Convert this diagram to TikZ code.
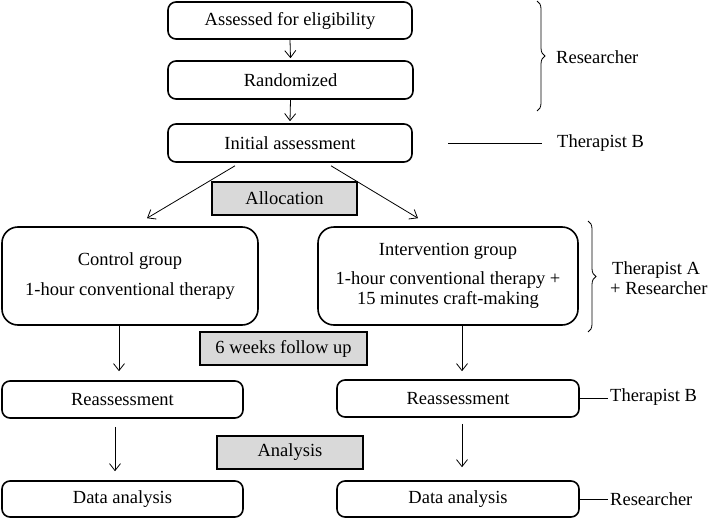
\documentclass[tikz,border=0pt]{standalone}
\usepackage{fontspec}
\setmainfont{Liberation Serif}
\usetikzlibrary{arrows.meta,decorations.pathreplacing}
\definecolor{boxgray}{HTML}{D9D9D9}
\begin{document}
\begin{tikzpicture}[x=1pt,y=-1pt,
  box/.style={draw, line width=1.6pt, rounded corners=8pt, inner sep=0pt},
  bigbox/.style={draw, line width=1.6pt, rounded corners=16pt, inner sep=0pt, align=center},
  graybox/.style={draw, line width=1.3pt, fill=boxgray, inner sep=0pt},
  arr/.style={-{Straight Barb[length=7pt,width=11pt]}, line width=0.8pt},
  thin/.style={line width=0.8pt},
  bracestyle/.style={decorate, decoration={brace, amplitude=8pt}, line width=0.8pt},
  lab/.style={anchor=west, inner sep=0pt, align=left},
  font=\fontsize{18.5}{20}\selectfont]
\useasboundingbox (0,0) rectangle (708,519);

% top column
\node[box, minimum width=244pt, minimum height=37pt] (b1) at (290,20.5) {Assessed for eligibility};
\node[box, minimum width=245pt, minimum height=38pt] (b2) at (290.5,80) {Randomized};
\node[box, minimum width=244pt, minimum height=38pt] (b3) at (290,143) {Initial assessment};

% gray labels
\node[graybox, minimum width=145pt, minimum height=33pt] (alloc) at (284.5,198.5) {Allocation};
\node[graybox, minimum width=167pt, minimum height=33pt] (fu) at (283.5,348.5) {6 weeks follow up};
\node[graybox, minimum width=146pt, minimum height=33pt] (an) at (290,452.5) {Analysis};

% groups
\node[bigbox, minimum width=256pt, minimum height=98pt] (ctl) at (130,276) {Control group\\[10pt]1-hour conventional therapy};
\node[bigbox, minimum width=260pt, minimum height=98pt] (intv) at (448,276) {Intervention group\\[9pt]1-hour conventional therapy +\\15 minutes craft-making};

% reassessment & data analysis
\node[box, minimum width=241pt, minimum height=37pt] (rl) at (122.5,399.5) {Reassessment};
\node[box, minimum width=242pt, minimum height=37pt] (rr) at (458,398.5) {Reassessment};
\node[box, minimum width=241pt, minimum height=36pt] (dl) at (122.5,499) {Data analysis};
\node[box, minimum width=242pt, minimum height=36pt] (dr) at (458,499) {Data analysis};

% arrows
\draw[arr] (b1.south) -- ([yshift=2pt]b2.north);
\draw[arr] (b2.south) -- ([yshift=2pt]b3.north);
\draw[arr] ([xshift=-55pt,yshift=-3pt]b3.south) -- ([xshift=17pt,yshift=8pt]ctl.north);
\draw[arr] ([xshift=41pt,yshift=-3pt]b3.south) -- ([xshift=-30pt,yshift=8pt]intv.north);
\draw[arr] ([xshift=-11pt]ctl.south) -- ([xshift=-3.5pt,yshift=9pt]rl.north);
\draw[arr] ([xshift=14pt]intv.south) -- ([xshift=4pt,yshift=8pt]rr.north);
\draw[arr] ([xshift=-7.5pt,yshift=-8pt]rl.south) -- ([xshift=-7.5pt,yshift=9pt]dl.north);
\draw[arr] ([xshift=4pt,yshift=-6pt]rr.south) -- ([xshift=4pt,yshift=13pt]dr.north);

% roles
\coordinate (br1t) at (537,1);
\coordinate (br1b) at (537,111);
\draw[bracestyle] (br1t) -- (br1b);
\node[lab] (r1) at (556,57) {Researcher};

\coordinate (tbl) at (448,143);
\node[lab] (t1) at (557,143) {Therapist B};
\draw[thin] (tbl) -- ([xshift=-15pt]t1.west);

\coordinate (br2t) at (588,221);
\coordinate (br2b) at (588,332);
\draw[bracestyle] (br2t) -- (br2b);
\node[lab] (t2) at (610,278) {\hspace*{2pt}Therapist A\\+ Researcher};

\node[lab] (t3) at (610,397) {Therapist B};
\draw[thin] (rr.east) -- ([xshift=-2pt]t3.west |- rr.east);
\node[lab] (r2) at (610,499) {Researcher};
\draw[thin] (dr.east) -- ([xshift=-2pt]r2.west |- dr.east);
\end{tikzpicture}
\end{document}
